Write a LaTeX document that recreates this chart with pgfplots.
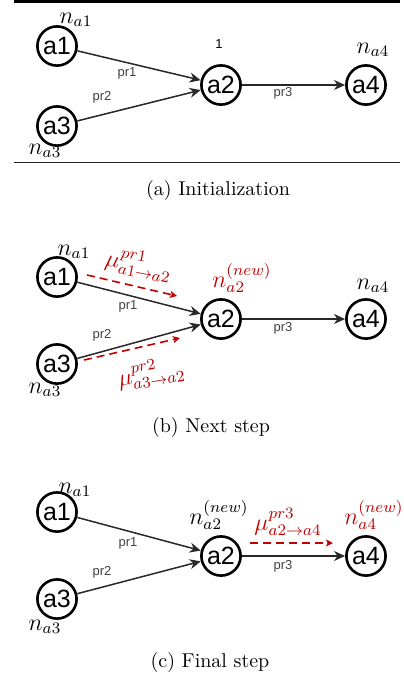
\documentclass[border=0pt]{standalone}
\usepackage{fontspec}
\usepackage{pgfplots}
\pgfplotsset{compat=1.18}
\usetikzlibrary{arrows.meta}
\newfontfamily\arial{Liberation Sans}
\definecolor{dred}{RGB}{192,0,0}
\definecolor{edgec}{RGB}{40,40,40}
\newcommand{\ml}[1]{\fontsize{11.5}{12}\selectfont$#1$}
\newcommand{\pr}[1]{\arial\fontsize{6.5}{7}\selectfont #1}
\tikzset{
  edge/.style={edgec, line width=0.75pt, shorten <=10.5pt, shorten >=10.5pt,
     -{Stealth[length=5.5pt, width=5pt, inset=1.8pt]}},
  msg/.style={dred, line width=0.8pt, dash pattern=on 4pt off 2.5pt,
     -{Stealth[length=3.5pt, width=3.5pt, inset=0.8pt]}},
  lab/.style={anchor=center, inner sep=0pt}}
\begin{document}
\begin{tikzpicture}
\begin{axis}[x=0.5pt, y=0.5pt, y dir=reverse, xmin=0, xmax=400, ymin=0, ymax=682,
  hide axis, clip=false, scale only axis]
% page frame
\addplot[draw=none] coordinates {(0,0) (400,682)};
% rules
\addplot[line width=1.65pt, black] coordinates {(14,1.65) (400,1.65)};
\addplot[line width=0.5pt, black!85] coordinates {(14,162) (400,162)};
% ---- edges panel a
\addplot[edge] coordinates {(57,46) (221,85)};
\addplot[edge] coordinates {(57,126) (221,85)};
\addplot[edge] coordinates {(221,85) (366,85)};
% ---- edges panel b
\addplot[edge] coordinates {(57,277) (221,319)};
\addplot[edge] coordinates {(57,364) (221,319)};
\addplot[edge] coordinates {(221,319) (366,319)};
% ---- edges panel c
\addplot[edge] coordinates {(57,512) (221,556)};
\addplot[edge] coordinates {(57,599) (221,556)};
\addplot[edge] coordinates {(221,556) (366,556)};
% ---- messages
\addplot[msg] coordinates {(87,275) (177,296)};
\addplot[msg] coordinates {(84,360) (180,338)};
\addplot[msg] coordinates {(250,543) (333,543)};
% ---- nodes with names
\addplot[only marks, mark=*, mark size=9.8pt,
  mark options={draw=black, fill=white, line width=1.3pt},
  point meta=explicit symbolic, nodes near coords,
  every node near coord/.append style={anchor=center, inner sep=0pt,
     font=\arial\fontsize{12.5}{13}\selectfont}] table[meta=n] {
x y n
57 46 a1
57 126 a3
221 85 a2
366 85 a4
57 277 a1
57 364 a3
221 319 a2
366 319 a4
57 512 a1
57 599 a3
221 556 a2
366 556 a4
};
% panel a labels
\node[lab] at (axis cs:76,20) {\ml{n_{a1}}};
\node[lab] at (axis cs:45,151) {\ml{n_{a3}}};
\node[lab] at (axis cs:373,50) {\ml{n_{a4}}};
\node[lab] at (axis cs:219,44) {\pr{1}};
\node[lab, text=black!75] at (axis cs:127,73) {\pr{pr1}};
\node[lab, text=black!75] at (axis cs:102,97) {\pr{pr2}};
\node[lab, text=black!75] at (axis cs:283,93) {\pr{pr3}};
\node[lab] at (axis cs:218,190) {(a)\ Initialization};
% panel b labels
\node[lab] at (axis cs:74,252) {\ml{n_{a1}}};
\node[lab] at (axis cs:45,390) {\ml{n_{a3}}};
\node[lab] at (axis cs:373,286) {\ml{n_{a4}}};
\node[lab, text=dred] at (axis cs:242,278) {\ml{n_{a2}^{(new)}}};
\node[lab, text=dred, rotate=-11] at (axis cs:139,264) {\ml{\mu^{pr1}_{a1\rightarrow a2}}};
\node[lab, text=dred, rotate=10] at (axis cs:151,373) {\ml{\mu^{pr2}_{a3\rightarrow a2}}};
\node[lab, text=black!75] at (axis cs:128,306) {\pr{pr1}};
\node[lab, text=black!75] at (axis cs:102,335) {\pr{pr2}};
\node[lab, text=black!75] at (axis cs:283,328) {\pr{pr3}};
\node[lab] at (axis cs:211,427) {(b)\ Next step};
% panel c labels
\node[lab] at (axis cs:75,490) {\ml{n_{a1}}};
\node[lab] at (axis cs:45,627) {\ml{n_{a3}}};
\node[lab] at (axis cs:219,515) {\ml{n_{a2}^{(new)}}};
\node[lab, text=dred] at (axis cs:374,515) {\ml{n_{a4}^{(new)}}};
\node[lab, text=dred] at (axis cs:288,522) {\ml{\mu^{pr3}_{a2\rightarrow a4}}};
\node[lab, text=black!75] at (axis cs:128,543) {\pr{pr1}};
\node[lab, text=black!75] at (axis cs:102,572) {\pr{pr2}};
\node[lab, text=black!75] at (axis cs:283,566) {\pr{pr3}};
\node[lab] at (axis cs:210,662) {(c)\ Final step};
\end{axis}
\end{tikzpicture}
\end{document}
